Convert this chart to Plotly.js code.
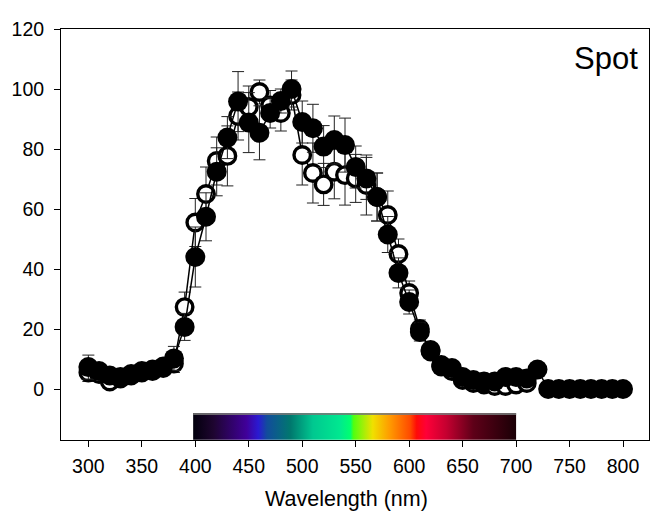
<!DOCTYPE html>
<html>
<head>
<meta charset="utf-8">
<script src="https://cdn.plot.ly/plotly-3.0.1.min.js"></script>
<style>html,body{margin:0;padding:0;background:#fff;}#chart{width:655px;height:529px;}</style>
</head>
<body>
<div id="chart"></div>
<script>
// Wavelengths (nm)
const wlFilled = [300,310,320,330,340,350,360,370,380,390,400,410,420,430,440,450,460,470,480,490,500,510,520,530,540,550,560,570,580,590,600,610,620,630,640,650,660,670,680,690,700,710,720,730,740,750,760,770,780,790,800];
const filledValues = [7.3,6,4.5,4,5,6,6.5,7.5,10.2,20.7,44,57.4,72.4,83.8,95.8,88.8,85.4,92,96,100,89,86.9,80.8,83,81.3,74,70.2,64,51.5,38.7,29,19,13,7.5,7,4,3,2.5,2.5,4,4,3.5,6.5,0,0,0,0,0,0,0,0];
const filledErrors = [4,1.5,1,1,1,1.5,1.5,2,4,4.5,10,8,8,7,10,10,9,5,4,6,7,8,7,8,9,7,7,8,6,5,4,3,2,2,1,1,1,1,1,1,1,1,1,0,0,0,0,0,0,0,0];

const wlOpen = [300,310,320,330,340,350,360,370,380,390,400,410,420,430,440,450,460,470,480,490,500,510,520,530,540,550,560,570,580,590,600,610,620,630,640,650,660,670,680,690,700,710];
const openValues = [5.5,5,2.5,3.5,4.5,5.5,6,7,8.5,27.3,55.5,65,76,77.7,91,94,99,94.5,92,98,78,72,68.2,72.4,71.3,70.2,68,64,58,45,32,20,12.5,8,6,3,2,1.5,1,1,1.5,2];
const openErrors = [3,1.5,1.5,1.5,1.5,1.5,1.5,1.5,3,5,8,9,8,10,8,7,4,5,6,5,10,10,7,9,10,8,10,8,8,5,4,3,2,2,1,1,1,1,1,1,1,1];

// Spectrum bar
const spectrumRange = [398, 700];
const spectrumBand = [-16.9, -8];
const spectrumStopsNm = [398,417,448,459,467,489,510,535,545,548,566,582,601,607,616,635,660,700];
const spectrumColors = ['#02000c','#1e0530','#40009a','#2a1ad2','#124c9c','#00786e','#00c890','#00e890','#00ff70','#50ff10','#f0e000','#ff9a00','#ff4a00','#ff0a08','#ff0038','#c40030','#5e0018','#1a0006'];

const xTicks = [300,350,400,450,500,550,600,650,700,750,800];
const yTicks = [0,20,40,60,80,100,120];

const spanNm = spectrumRange[1]-spectrumRange[0];
const specScale = spectrumStopsNm.map((nm,i)=>[Math.min(1,Math.max(0,(nm-spectrumRange[0])/spanNm)), spectrumColors[i]]);

const FONT = 'Liberation Sans, Arial, sans-serif';

const traces = [
  {
    x:[spectrumRange[0],spectrumRange[1],spectrumRange[1],spectrumRange[0],spectrumRange[0]],
    y:[spectrumBand[0],spectrumBand[0],spectrumBand[1],spectrumBand[1],spectrumBand[0]],
    mode:'lines', line:{width:0,color:'rgba(0,0,0,0)'},
    fill:'toself',
    fillgradient:{type:'horizontal', colorscale:specScale, start:spectrumRange[0], stop:spectrumRange[1]},
    hoverinfo:'skip', showlegend:false
  },
  {
    x:spectrumRange, y:[spectrumBand[1]-0.3, spectrumBand[1]-0.3],
    mode:'lines', line:{width:2, color:'rgba(120,120,120,0.85)'},
    hoverinfo:'skip', showlegend:false
  },
  {
    x:wlOpen, y:openValues, mode:'lines+markers',
    line:{color:'#000', width:1.5},
    marker:{symbol:'circle', size:16.5, color:'#fff', line:{color:'#000', width:3.4}},
    error_y:{type:'data', array:openErrors, visible:true, color:'#222', thickness:1, width:6},
    showlegend:false
  },
  {
    x:wlFilled, y:filledValues, mode:'lines+markers',
    line:{color:'#000', width:1.5},
    marker:{symbol:'circle', size:20, color:'#000'},
    error_y:{type:'data', array:filledErrors, visible:true, color:'#222', thickness:1, width:6},
    showlegend:false
  }
];

const layout = {
  width:655, height:529,
  margin:{l:61, r:6, t:29, b:89, pad:0},
  paper_bgcolor:'#fff', plot_bgcolor:'#fff',
  font:{family:FONT, size:20, color:'#000'},
  showlegend:false,
  xaxis:{
    range:[274.4, 824.3], tickvals:xTicks, ticktext:xTicks.map(String),
    showgrid:false, zeroline:false, showline:true, mirror:true, linecolor:'#000', linewidth:1,
    ticks:'outside', ticklen:6, tickcolor:'#000', tickwidth:1, ticklabelstandoff:3,
    tickfont:{family:FONT, size:19.5, color:'#000'},
    title:{text:''}
  },
  yaxis:{
    range:[-17, 120], tickvals:yTicks, ticktext:yTicks.map(String),
    showgrid:false, zeroline:false, showline:true, mirror:true, linecolor:'#000', linewidth:1,
    ticks:'outside', ticklen:6, tickcolor:'#000', tickwidth:1, ticklabelstandoff:6,
    tickfont:{family:FONT, size:19.5, color:'#000'}
  },
  annotations:[{
    xref:'paper', yref:'paper', x:0.984, y:0.929, xanchor:'right', yanchor:'middle',
    text:'Spot', showarrow:false, font:{family:FONT, size:31, color:'#000'}
  },{
    xref:'paper', yref:'paper', x:0.485, y:-0.1436, xanchor:'center', yanchor:'middle',
    text:'Wavelength (nm)', showarrow:false, font:{family:FONT, size:21.5, color:'#000'}
  }]
};

Plotly.newPlot('chart', traces, layout, {displayModeBar:false, staticPlot:true});
</script>
</body>
</html>
